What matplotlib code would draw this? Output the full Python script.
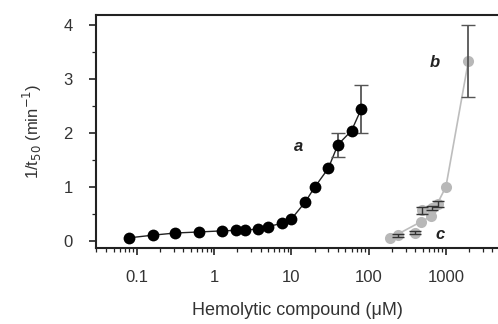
import matplotlib
matplotlib.use("Agg")
import matplotlib.pyplot as plt
from matplotlib.ticker import LogLocator, NullFormatter, FixedLocator, FuncFormatter

plt.rcParams["font.family"] = ["Liberation Sans", "DejaVu Sans"]

# series a (black)
conc_a = [0.078, 0.16, 0.31, 0.63, 1.25, 1.9, 2.5, 3.75, 5, 7.5, 10, 15, 20, 30, 40, 60, 80]
rate_a = [0.05, 0.10, 0.14, 0.16, 0.18, 0.19, 0.19, 0.22, 0.26, 0.32, 0.40, 0.71, 0.99, 1.34, 1.78, 2.04, 2.44]
err_a = [0, 0, 0, 0, 0, 0, 0, 0, 0, 0, 0, 0, 0, 0, 0.22, 0, 0.45]

# series b (grey)
conc_b = [188, 475, 640, 1000, 1950]
rate_b = [0.04, 0.35, 0.45, 1.0, 3.33]
err_b = [0, 0, 0, 0, 0.67]

# series c (grey points with small error bars)
conc_c = [240, 400, 490, 670, 800]
rate_c = [0.10, 0.15, 0.56, 0.60, 0.68]
err_c = [0.03, 0.03, 0.06, 0.04, 0.05]

text_col = "#333333"
grey = "#b8b8b8"


def with_err(xs, ys, es):
    # only the points that carry an error bar
    pts = [(x, y, e) for x, y, e in zip(xs, ys, es) if e > 0]
    return [p[0] for p in pts], [p[1] for p in pts], [p[2] for p in pts]


fig = plt.figure(figsize=(4.98, 3.24), dpi=100)
ax = fig.add_axes([0.193, 0.235, 0.807, 0.719])

ax.plot(conc_b, rate_b, "-", color="#bdbdbd", lw=1.2, zorder=1)
ax.plot(conc_b, rate_b, "o", color=grey, ms=8, mec="none", zorder=2)
ex, ey, ee = with_err(conc_b, rate_b, err_b)
ax.errorbar(ex, ey, yerr=ee, fmt="none", ecolor="#555555", elinewidth=1.3,
            capsize=5, capthick=1.0, zorder=3)

ax.plot(conc_c, rate_c, "o", color=grey, ms=8, mec="none", zorder=2)
ax.errorbar(conc_c, rate_c, yerr=err_c, fmt="none", ecolor="#333333", elinewidth=1.0,
            capsize=4, capthick=1.0, zorder=3)

ax.plot(conc_a, rate_a, "-", color="#222222", lw=1.0, zorder=4)
ex, ey, ee = with_err(conc_a, rate_a, err_a)
ax.errorbar(ex, ey, yerr=ee, fmt="none", ecolor="#555555", elinewidth=1.3,
            capsize=5, capthick=1.0, zorder=4)
ax.plot(conc_a, rate_a, "o", color="black", ms=8.5, mec="none", zorder=5)

ax.set_xscale("log")
ax.set_xlim(0.0297, 4720)
ax.set_ylim(-0.135, 4.19)

ax.xaxis.set_major_locator(FixedLocator([0.1, 1, 10, 100, 1000]))
ax.xaxis.set_major_formatter(FuncFormatter(lambda v, p: f"{v:g}"))
ax.xaxis.set_minor_locator(LogLocator(base=10, subs=range(2, 10), numticks=20))
ax.xaxis.set_minor_formatter(NullFormatter())
ax.set_yticks([0, 1, 2, 3, 4])
ax.set_yticks([0.5, 1.5, 2.5, 3.5], minor=True)

for side in ["left", "bottom", "top"]:
    ax.spines[side].set_linewidth(1.5)
    ax.spines[side].set_color("#222222")
ax.spines["right"].set_visible(False)

ax.tick_params(axis="both", which="major", direction="out", length=5, width=1.2,
               color="#222222", labelsize=12, labelcolor=text_col)
ax.tick_params(axis="both", which="minor", direction="out", length=3, width=0.9,
               color="#222222")
ax.tick_params(axis="x", which="major", pad=11)
ax.tick_params(axis="y", which="major", pad=12)

ax.set_xlabel("Hemolytic compound (\u03bcM)", fontsize=13, color=text_col, labelpad=12)
ax.set_ylabel("1/t$_{50}$ (min$^{-1}$)", fontsize=12, color=text_col, labelpad=14)

ax.text(12.5, 1.74, "a", fontsize=12, fontweight="bold", style="italic", color="#222222",
        ha="center", va="center")
ax.text(720, 3.3, "b", fontsize=12, fontweight="bold", style="italic", color="#222222",
        ha="center", va="center")
ax.text(830, 0.12, "c", fontsize=12, fontweight="bold", style="italic", color="#222222",
        ha="center", va="center")

fig.savefig("out.png", dpi=100)
